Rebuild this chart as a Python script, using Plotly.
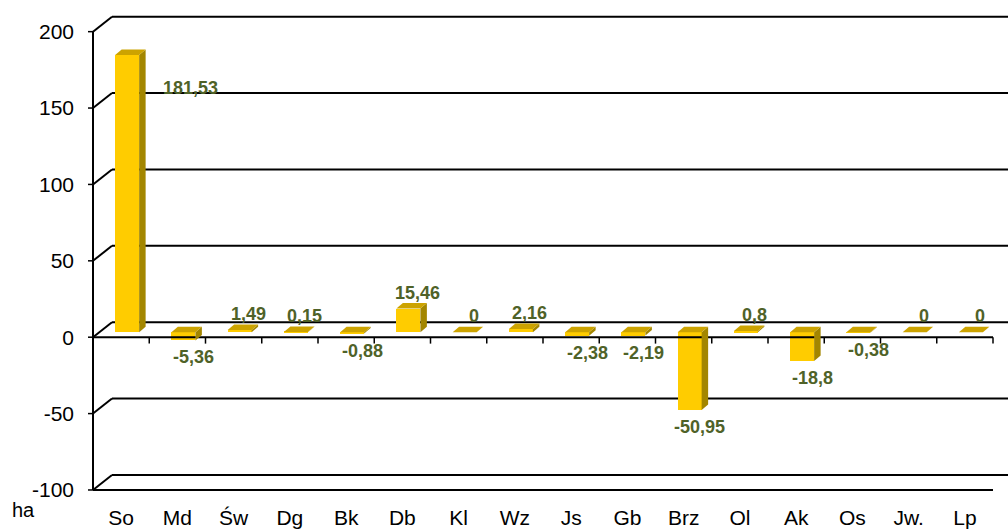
import plotly.graph_objects as go

# Area change per district (ha)
categories = ["So", "Md", "Św", "Dg", "Bk", "Db", "Kl", "Wz", "Js", "Gb",
              "Brz", "Ol", "Ak", "Os", "Jw.", "Lp"]
values = [181.53, -5.36, 1.49, 0.15, -0.88, 15.46, 0, 2.16, -2.38, -2.19,
          -50.95, 0.8, -18.8, -0.38, 0, 0]
y_ticks = [-100, -50, 0, 50, 100, 150, 200]
unit_label = "ha"

# ---- pixel geometry of the pseudo-3D frame ----
W, H = 1008, 530
ML, MR, MT, MB = 87, 0, 12, 36
X0_PX = 93.0          # front-left edge of the floor
CAT_PX = 56.25        # width of one category slot
ZERO_PX = 337.2       # front zero line
UNIT_PX = 1.5277      # pixels per ha on the front plane

def px_x(p):
    return (p - X0_PX) / CAT_PX

def px_y(p):
    return (ZERO_PX - p) / UNIT_PX

x_range = [px_x(ML), px_x(W - MR)]
y_range = [px_y(H - MB), px_y(MT)]

# wall depth (front plane -> back wall)
DX = 19 / CAT_PX
DY = 15 / UNIT_PX
# bar placement inside the depth
BX = 6 / CAT_PX
BY = 5 / UNIT_PX
BDX = 6.5 / CAT_PX
BDY = 5.5 / UNIT_PX
BAR_W = 24 / CAT_PX

FRONT = "#FFCC00"
SIDE = "#A38600"
TOP = "#CCA300"
LABEL = "#4F6228"
LINE = "#000000"
FONT = "Liberation Sans, Arial"

n = len(categories)
centers = [i + 0.5 for i in range(n)]
face_x = [c + BX for c in centers]

fig = go.Figure()

fig.add_trace(go.Bar(
    x=face_x, y=values, base=BY, width=BAR_W,
    marker=dict(color=FRONT, line=dict(width=0)),
    hoverinfo="skip", showlegend=False,
))

shapes = []

def seg(x0, y0, x1, y1, w=2, layer="below", color=LINE):
    shapes.append(dict(type="line", xref="x", yref="y", x0=x0, y0=y0,
                       x1=x1, y1=y1, layer=layer,
                       line=dict(color=color, width=w)))

# back wall gridlines and left wall diagonals
for v in y_ticks:
    seg(DX, v + DY, n + DX + 1, v + DY)
    seg(0, v, DX, v + DY)
    seg(-5 / CAT_PX, v, 0, v, w=1.5, layer="above")

# front edges
seg(0, y_ticks[0], 0, y_ticks[-1], layer="above")
seg(0, y_ticks[0], n, y_ticks[0], layer="above")
seg(0, 0, n, 0, layer="above")
for k in range(1, n + 1):
    seg(k, 0, k, -4.2, w=1.5, layer="above")

# side and top faces of each bar
for fx, v in zip(face_x, values):
    x0 = fx - BAR_W / 2
    x1 = fx + BAR_W / 2
    lo = min(0, v) + BY
    hi = max(0, v) + BY
    if hi > lo:
        shapes.append(dict(
            type="path", xref="x", yref="y", layer="above",
            path=f"M{x1},{lo} L{x1 + BDX},{lo + BDY} L{x1 + BDX},{hi + BDY} L{x1},{hi} Z",
            fillcolor=SIDE, line=dict(width=0)))
    shapes.append(dict(
        type="path", xref="x", yref="y", layer="above",
        path=f"M{x0},{hi} L{x1},{hi} L{x1 + BDX},{hi + BDY} L{x0 + BDX},{hi + BDY} Z",
        fillcolor=TOP, line=dict(width=0)))

# value labels
annotations = []
vmax = max(values)
for fx, v in zip(face_x, values):
    text = "{:g}".format(v).replace(".", ",")
    if v == vmax and v > 150:
        xs, ys = 63, -33
    elif v >= 0:
        xs, ys = 9, 16
    else:
        xs, ys = 10, -17
    annotations.append(dict(
        x=fx, y=v + BY, xref="x", yref="y", text=f"<b>{text}</b>",
        showarrow=False, xshift=xs, yshift=ys,
        xanchor="center", yanchor="middle",
        font=dict(family=FONT, size=18, color=LABEL)))

plot_w = W - ML - MR
plot_h = H - MT - MB
annotations.append(dict(
    x=(23 - ML) / plot_w, y=(H - MB - 510) / plot_h,
    xref="paper", yref="paper", text=unit_label, showarrow=False,
    xanchor="center", yanchor="middle",
    font=dict(family=FONT, size=20, color="#000000")))

fig.update_layout(
    width=W, height=H,
    margin=dict(l=ML, r=MR, t=MT, b=MB, pad=0),
    paper_bgcolor="white", plot_bgcolor="white",
    shapes=shapes, annotations=annotations,
    bargap=0,
    xaxis=dict(range=x_range, tickvals=centers, ticktext=categories,
               showgrid=False, zeroline=False, showline=False, ticks="",
               ticklabelstandoff=9,
               tickfont=dict(family=FONT, size=21, color="#000000")),
    yaxis=dict(range=y_range, tickvals=y_ticks,
               ticktext=[str(t) for t in y_ticks],
               showgrid=False, zeroline=False, showline=False, ticks="",
               ticklabelstandoff=12,
               tickfont=dict(family=FONT, size=21, color="#000000")),
)

fig.write_html("out.html")
